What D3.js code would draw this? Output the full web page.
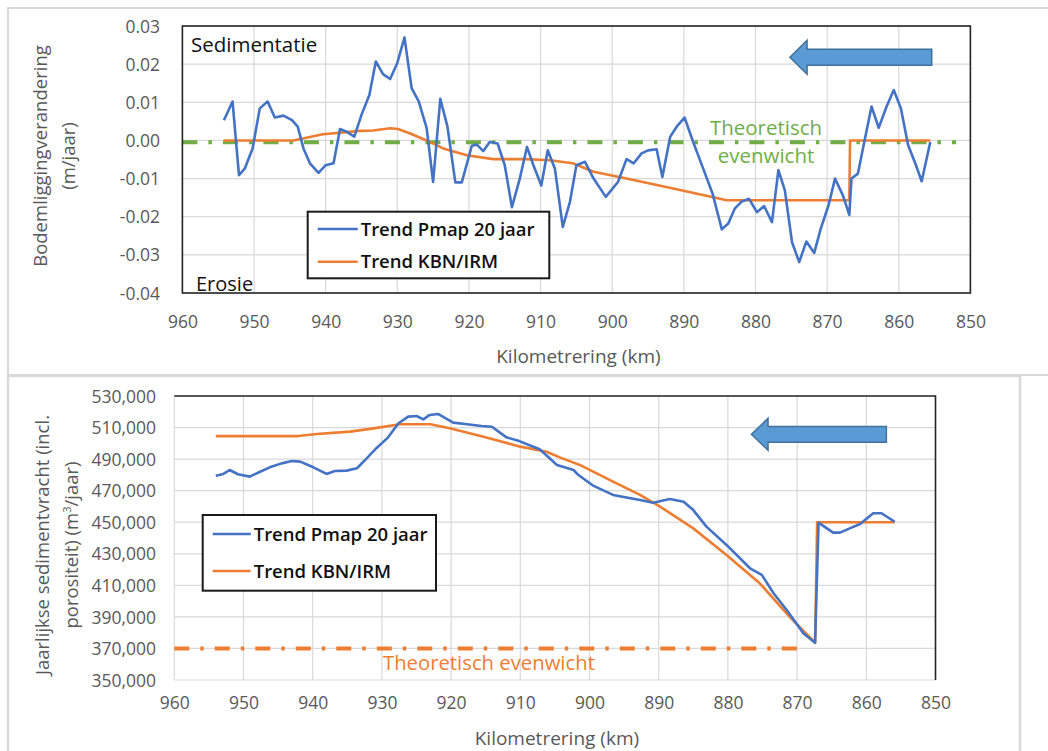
<!DOCTYPE html>
<html>
<head>
<meta charset="utf-8">
<script src="https://cdn.jsdelivr.net/npm/d3@7"></script>
<style>
  body { margin: 0; background: #fff; }
  svg { display: block; font-family: "Open Sans", sans-serif; }
</style>
</head>
<body>
<svg></svg>
<script>
// Kilometre ticks shared by both charts
const kmTicks = [960, 950, 940, 930, 920, 910, 900, 890, 880, 870, 860, 850];

// Top chart: bed level change (m/jaar)
const topYTicks = [0.03, 0.02, 0.01, 0.00, -0.01, -0.02, -0.03, -0.04];
const topPmapKm = [954.2, 953.0, 952.1, 951.3, 950.2, 949.2, 948.1, 947.1, 945.9, 944.7, 943.9, 943.1, 942.2, 941.0,
    940.0, 938.9, 938.0, 937.1, 936.0, 935.0, 933.9, 933.0, 932.0, 931.0, 930.0, 929.0, 928.0, 927.0, 925.9, 925.0,
    924.0, 923.0, 921.9, 921.0, 919.6, 918.9, 918.0, 917.1, 916.0, 915.0, 914.0, 912.9, 911.9, 911.0, 909.9, 909.0,
    908.0, 906.9, 905.9, 905.0, 903.8, 902.6, 900.9, 899.2, 898.0, 897.0, 895.9, 895.0, 893.8, 893.0, 891.9, 891.0,
    889.9, 888.7, 887.3, 886.0, 884.7, 883.8, 882.9, 881.9, 880.9, 879.8, 878.8, 877.7, 876.8, 875.9, 874.9, 873.9,
    872.9, 871.8, 870.9, 869.8, 868.9, 867.8, 866.9, 866.6, 865.7, 864.9, 863.8, 862.8, 861.7, 860.7, 859.7, 858.7,
    857.7, 856.8, 855.6];
const topPmapVal = [0.0053, 0.0102, -0.0091, -0.0074, -0.0021, 0.0084, 0.0102, 0.0060, 0.0065, 0.0053, 0.0036, -0.0021,
    -0.0060, -0.0085, -0.0065, -0.0060, 0.0030, 0.0023, 0.0010, 0.0067, 0.0119, 0.0207, 0.0174, 0.0161, 0.0203, 0.0270,
    0.0137, 0.0102, 0.0032, -0.0109, 0.0109, 0.0036, -0.0110, -0.0110, -0.0014, -0.0011, -0.0028, -0.0004, -0.0008,
    -0.0065, -0.0175, -0.0100, -0.0017, -0.0065, -0.0118, -0.0026, -0.0074, -0.0227, -0.0161, -0.0065, -0.0056, -0.0100,
    -0.0148, -0.0109, -0.0049, -0.0060, -0.0034, -0.0026, -0.0023, -0.0096, 0.0010, 0.0036, 0.0060, -0.0004, -0.0074,
    -0.0139, -0.0233, -0.0218, -0.0179, -0.0160, -0.0153, -0.0188, -0.0172, -0.0214, -0.0078, -0.0131, -0.0267, -0.0319,
    -0.0265, -0.0295, -0.0232, -0.0170, -0.0100, -0.0144, -0.0195, -0.0100, -0.0087, -0.0012, 0.0089, 0.0033, 0.0089,
    0.0132, 0.0084, -0.0012, -0.0060, -0.0107, -0.0004];
const topKbnKm = [954.2, 944.5, 940.4, 935.2, 933.4, 931.0, 929.9, 928.2, 925.9, 923.6, 920.3, 916.6, 912.0, 908.7,
    905.5, 902.6, 898.0, 891.5, 884.0, 866.9, 866.8, 855.6];
const topKbnVal = [0, 0, 0.0016, 0.0025, 0.0026, 0.0032, 0.0030, 0.0018, 0.0000, -0.0021, -0.0039, -0.0049, -0.0049,
    -0.0052, -0.0060, -0.0082, -0.0100, -0.0126, -0.0157, -0.0157, 0, 0];
const topEqKm = [960, 852];
const topEqVal = -0.0005;

// Bottom chart: yearly sediment load (m3/jaar)
const botYTicks = [530000, 510000, 490000, 470000, 450000, 430000, 410000, 390000, 370000, 350000];
const botPmapKm = [954.0, 952.9, 952.0, 950.8, 949.1, 947.6, 946.2, 944.5, 943.0, 941.8, 939.9, 938.0, 936.8, 935.1,
    933.6, 932.2, 930.8, 929.1, 927.6, 926.2, 925.0, 924.0, 923.1, 921.9, 919.7, 917.7, 915.6, 914.1, 912.0, 910.3,
    908.4, 907.2, 906.0, 904.7, 902.3, 901.6, 899.4, 896.6, 892.7, 890.8, 888.4, 886.4, 885.0, 883.1, 880.2, 876.8,
    875.1, 873.4, 871.5, 869.1, 867.4, 866.9, 864.8, 863.8, 862.4, 860.9, 859.0, 857.8, 855.9];
const botPmapVal = [479500, 480600, 483100, 480400, 478900, 482000, 484800, 487300, 488800, 488400, 484800, 480600,
    482500, 482700, 484200, 490500, 496900, 503800, 512700, 516900, 517300, 515200, 518000, 518600, 513100, 512100,
    511000, 510500, 503800, 501700, 498300, 496200, 491500, 486300, 483100, 479900, 473000, 467300, 464100, 462400,
    464700, 463000, 457700, 447200, 435600, 420800, 416600, 405000, 394400, 379600, 373600, 449700, 443400, 443400,
    446100, 448900, 455700, 455700, 450300];
const botKbnKm = [954.0, 942.1, 939.4, 934.6, 931.2, 927.4, 923.0, 920.2, 915.3, 910.0, 906.2, 904.3, 901.4, 896.6,
    892.7, 889.8, 885.0, 880.2, 875.4, 871.0, 867.4, 867.1, 855.9];
const botKbnVal = [504600, 504600, 505900, 507400, 509500, 512100, 512100, 509500, 504200, 497900, 494700, 491100,
    486300, 475700, 467300, 459900, 446100, 429200, 411300, 389700, 373600, 450000, 450000];
const botEqKm = [960, 869];
const botEqVal = 370000;

const seriesNames = ["Trend Pmap 20 jaar", "Trend KBN/IRM"];

const BLUE = "#4472C4", ORANGE = "#ED7D31", GREEN = "#70AD47";
const GRID = "#d9d9d9", TEXT = "#595959";

const width = 1048;
const height = 751;

const svg = d3.select("svg")
    .attr("width", width)
    .attr("height", height);

svg.append("rect").attr("width", width).attr("height", height).attr("fill", "#fff");

// Light frames around the two pasted charts
svg.append("rect")
    .attr("x", 8).attr("y", 8).attr("width", 1060).attr("height", 367)
    .attr("fill", "none").attr("stroke", GRID).attr("stroke-width", 2);
svg.append("rect")
    .attr("x", 8).attr("y", 376).attr("width", 1012).attr("height", 400)
    .attr("fill", "none").attr("stroke", GRID).attr("stroke-width", 2.5);

function drawPanel(p) {
    const x = d3.scaleLinear().domain([960, 850]).range([p.left, p.right]);
    const y = d3.scaleLinear().domain(d3.extent(p.yTicks)).range([p.bottom, p.top]);
    const g = svg.append("g");

    // Gridlines
    g.append("g").selectAll("line")
        .data(p.yTicks)
        .join("line")
        .attr("x1", p.left).attr("x2", p.right)
        .attr("y1", d => y(d)).attr("y2", d => y(d))
        .attr("stroke", GRID).attr("stroke-width", 1.2);
    g.append("g").selectAll("line")
        .data(kmTicks)
        .join("line")
        .attr("x1", d => x(d)).attr("x2", d => x(d))
        .attr("y1", p.top).attr("y2", p.bottom)
        .attr("stroke", GRID).attr("stroke-width", 1.2);

    // Axes (labels only)
    const yAxis = g.append("g")
        .attr("transform", `translate(${p.yLabelX},0)`)
        .call(d3.axisLeft(y).tickValues(p.yTicks).tickFormat(p.yFormat).tickSize(0).tickPadding(0));
    const xAxis = g.append("g")
        .attr("transform", `translate(0,${p.xLabelY})`)
        .call(d3.axisBottom(x).tickValues(kmTicks).tickFormat(d3.format("d")).tickSize(0).tickPadding(0));
    [yAxis, xAxis].forEach(a => {
        a.select(".domain").remove();
        a.selectAll("text")
            .attr("fill", TEXT)
            .style("font-family", "'Open Sans', sans-serif")
            .style("font-size", "17.5px");
    });
    yAxis.selectAll("text").attr("dy", "0.35em");
    xAxis.selectAll("text").attr("dy", "0");

    // Axis titles
    g.append("text")
        .attr("x", (p.left + p.right) / 2 + 2).attr("y", p.xTitleY)
        .attr("text-anchor", "middle")
        .attr("fill", TEXT).style("font-size", "19px")
        .text("Kilometrering (km)");
    p.yTitle.forEach((t, i) => {
        const tx = p.yTitleX[i];
        const ty = p.yTitleCY;
        g.append("text")
            .attr("transform", `translate(${tx},${ty}) rotate(-90)`)
            .attr("text-anchor", "middle")
            .attr("fill", TEXT).style("font-size", "18.5px")
            .text(t.text)
            .call(s => {
                if (t.sup) {
                    s.text(t.text[0]);
                    s.append("tspan").attr("baseline-shift", "super").style("font-size", "11px").text(t.sup);
                    s.append("tspan").text(t.text[1]);
                }
            });
    });

    const line = d3.line().x(d => x(d[0])).y(d => y(d[1]));

    // Theoretical equilibrium (dash-dot)
    g.append("line")
        .attr("x1", x(p.eqKm[0])).attr("x2", x(p.eqKm[1]))
        .attr("y1", y(p.eqVal)).attr("y2", y(p.eqVal))
        .attr("stroke", p.eqColor).attr("stroke-width", 4)
        .attr("stroke-dasharray", "15,11,3.5,11");

    // Series
    g.append("path")
        .datum(d3.zip(p.kbnKm, p.kbnVal))
        .attr("d", line)
        .attr("fill", "none").attr("stroke", ORANGE).attr("stroke-width", 2.6)
        .attr("stroke-linejoin", "round");
    g.append("path")
        .datum(d3.zip(p.pmapKm, p.pmapVal))
        .attr("d", line)
        .attr("fill", "none").attr("stroke", BLUE).attr("stroke-width", 2.6)
        .attr("stroke-linejoin", "round");

    return { x, y, g };
}

function drawArrow(g, x, y, a) {
    const tx = x(a.tip), bx = x(a.head), ex = x(a.end), cy = y(a.val);
    g.append("path")
        .attr("d", `M${tx},${cy} L${bx},${cy - a.hh} L${bx},${cy - a.sh} L${ex},${cy - a.sh} ` +
                   `L${ex},${cy + a.sh} L${bx},${cy + a.sh} L${bx},${cy + a.hh} Z`)
        .attr("fill", "#5B9BD5").attr("stroke", "#41719C").attr("stroke-width", 1.5);
}

function drawLegend(g, box) {
    g.append("rect")
        .attr("x", box.x).attr("y", box.y).attr("width", box.w).attr("height", box.h)
        .attr("fill", "#fff").attr("stroke", "#1a1a1a").attr("stroke-width", 2);
    seriesNames.forEach((name, i) => {
        const cy = box.y + box.row0 + i * box.step;
        g.append("line")
            .attr("x1", box.x + 10).attr("x2", box.x + 10 + box.lineLen)
            .attr("y1", cy).attr("y2", cy)
            .attr("stroke", i === 0 ? BLUE : ORANGE).attr("stroke-width", 2.6);
        g.append("text")
            .attr("x", box.x + 13 + box.lineLen).attr("y", cy + 6.5)
            .attr("fill", "#111").style("font-size", "18.5px").style("font-weight", "600")
            .text(name);
    });
}

// ---- Top chart ----
const topChart = drawPanel({
    left: 182.4, right: 970.4, top: 26, bottom: 293,
    yTicks: topYTicks, yFormat: d => d.toFixed(2),
    yLabelX: 160, xLabelY: 328, xTitleY: 363,
    yTitle: [{ text: "Bodemliggingverandering" }, { text: "(m/jaar)" }],
    yTitleX: [47, 75], yTitleCY: 156,
    pmapKm: topPmapKm, pmapVal: topPmapVal, kbnKm: topKbnKm, kbnVal: topKbnVal,
    eqKm: topEqKm, eqVal: topEqVal, eqColor: GREEN
});
topChart.g.append("rect")
    .attr("x", 182.4).attr("y", 26).attr("width", 788).attr("height", 267)
    .attr("fill", "none").attr("stroke", "#262626").attr("stroke-width", 1.6);
topChart.g.append("text").attr("x", 191).attr("y", 52).attr("fill", "#111").style("font-size", "20.5px").text("Sedimentatie");
topChart.g.append("text").attr("x", 196).attr("y", 291).attr("fill", "#111").style("font-size", "20px").text("Erosie");
topChart.g.append("text").attr("x", 766).attr("y", 135).attr("text-anchor", "middle")
    .attr("fill", GREEN).style("font-size", "20.5px").text("Theoretisch");
topChart.g.append("text").attr("x", 766).attr("y", 163).attr("text-anchor", "middle")
    .attr("fill", GREEN).style("font-size", "20.5px").text("evenwicht");
drawArrow(topChart.g, topChart.x, topChart.y, { tip: 875.2, head: 872.8, end: 855.4, val: 0.0218, hh: 17, sh: 8 });
drawLegend(topChart.g, { x: 307.7, y: 211.7, w: 241.6, h: 66.6, row0: 17.3, step: 32.7, lineLen: 40 });

// ---- Bottom chart ----
const botChart = drawPanel({
    left: 174.3, right: 935.5, top: 396, bottom: 680,
    yTicks: botYTicks, yFormat: d3.format(","),
    yLabelX: 156, xLabelY: 709, xTitleY: 745,
    yTitle: [{ text: "Jaarlijkse sedimentvracht (incl." }, { text: ["porositeit) (m", "/jaar)"], sup: "3" }],
    yTitleX: [49, 78], yTitleCY: 545,
    pmapKm: botPmapKm, pmapVal: botPmapVal, kbnKm: botKbnKm, kbnVal: botKbnVal,
    eqKm: botEqKm, eqVal: botEqVal, eqColor: ORANGE
});
botChart.g.append("path")
    .attr("d", "M174.3,396 H935.5 V680")
    .attr("fill", "none").attr("stroke", "#262626").attr("stroke-width", 1.6);
botChart.g.append("text").attr("x", 383).attr("y", 670)
    .attr("fill", ORANGE).style("font-size", "20.3px").text("Theoretisch evenwicht");
drawArrow(botChart.g, botChart.x, botChart.y, { tip: 876.6, head: 874.2, end: 857.1, val: 505700, hh: 16, sh: 7.8 });
drawLegend(botChart.g, { x: 202.7, y: 515, w: 233.3, h: 75.7, row0: 19, step: 37, lineLen: 38 });
</script>
</body>
</html>
